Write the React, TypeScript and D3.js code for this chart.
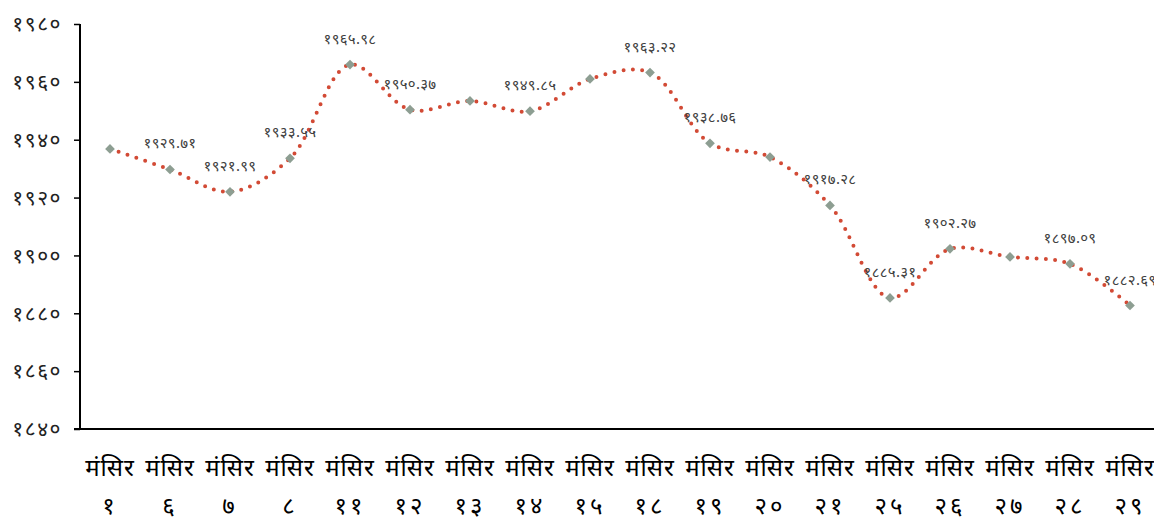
import React, { useEffect, useRef } from 'react';
import * as d3 from 'd3';

const categories = ['१', '६', '७', '८', '११', '१२', '१३', '१४', '१५', '१८', '१९', '२०', '२१', '२५', '२६', '२७', '२८', '२९'];
const values = [1936.8, 1929.71, 1921.99, 1933.55, 1965.98, 1950.37, 1953.4, 1949.85, 1961.0, 1963.22, 1938.76, 1934.0, 1917.28, 1885.31, 1902.27, 1899.5, 1897.09, 1882.69];
const showLabel = [false, true, true, true, true, true, false, true, false, true, true, false, true, true, true, false, true, true];
const yTicks = [1840, 1860, 1880, 1900, 1920, 1940, 1960, 1980];
const monthName = 'मंसिर';

const devDigits = '०१२३४५६७८९';
const toDev = (s: string) => s.replace(/[0-9]/g, d => devDigits[+d]);

function App() {
    const ref = useRef<SVGSVGElement>(null);
    const width = 1154, height = 520;

    useEffect(() => {
        const svg = d3.select(ref.current);
        svg.selectAll('*').remove();

        const left = 80, top = 24, bottom = 429;
        const x = d3.scaleBand<string>()
            .domain(categories.map((c, i) => i + ''))
            .range([left, left + 60 * categories.length]);
        const y = d3.scaleLinear().domain([1840, 1980]).range([bottom, top]);
        const cx = (i: number) => (x(i + '') as number) + x.bandwidth() / 2;

        // y axis
        const yAxis = svg.append('g')
            .attr('transform', `translate(${left},0)`)
            .call(d3.axisLeft(y).tickValues(yTicks).tickSize(6).tickFormat(d => toDev(String(d))));
        yAxis.select('.domain').attr('stroke', '#000').attr('stroke-width', 2).attr('d', `M0,${top}V${bottom}`);
        yAxis.selectAll('.tick line').attr('stroke', '#000').attr('stroke-width', 1.5);
        yAxis.selectAll('.tick text')
            .attr('x', -18)
            .attr('font-size', 21)
            .attr('letter-spacing', 1.5)
            .attr('font-family', 'Noto Sans, sans-serif')
            .attr('fill', '#222');

        // x axis line
        svg.append('line')
            .attr('x1', left - 6).attr('x2', width)
            .attr('y1', bottom).attr('y2', bottom)
            .attr('stroke', '#000').attr('stroke-width', 2);

        // x labels
        const xl = svg.append('g').attr('font-family', 'Noto Sans, sans-serif').attr('font-size', 24).attr('fill', '#000');
        categories.forEach((c, i) => {
            xl.append('text').attr('x', cx(i)).attr('y', 476).attr('text-anchor', 'middle')
                .attr('letter-spacing', 1).text(monthName);
            xl.append('text').attr('x', cx(i)).attr('y', 514).attr('text-anchor', 'middle')
                .attr('letter-spacing', 3).text(c);
        });

        // line
        const line = d3.line<number>()
            .x((d, i) => cx(i))
            .y(d => y(d))
            .curve(d3.curveCatmullRom.alpha(0.5));
        svg.append('path')
            .datum(values)
            .attr('d', line)
            .attr('fill', 'none')
            .attr('stroke', '#D24A35')
            .attr('stroke-width', 4)
            .attr('stroke-linecap', 'round')
            .attr('stroke-dasharray', '0 9.3');

        // markers
        svg.append('g').selectAll('path')
            .data(values)
            .join('path')
            .attr('d', d3.symbol(d3.symbolDiamond2, 60))
            .attr('transform', (d, i) => `translate(${cx(i)},${y(d)})`)
            .attr('fill', '#8D9E92');

        // data labels
        svg.append('g').selectAll('text')
            .data(values.map((v, i) => ({ v, i })).filter(d => showLabel[d.i]))
            .join('text')
            .attr('x', d => cx(d.i))
            .attr('y', d => y(d.v) - 21)
            .attr('text-anchor', 'middle')
            .attr('font-size', 15)
            .attr('letter-spacing', 0.3)
            .attr('font-family', 'Noto Sans, sans-serif')
            .attr('fill', '#404040')
            .text(d => toDev(d.v.toFixed(2)));
    }, []);

    return <svg ref={ref} width={width} height={height}
        style={{ position: 'absolute', left: 0, top: 0, background: '#fff' }} />;
}

export default App;
